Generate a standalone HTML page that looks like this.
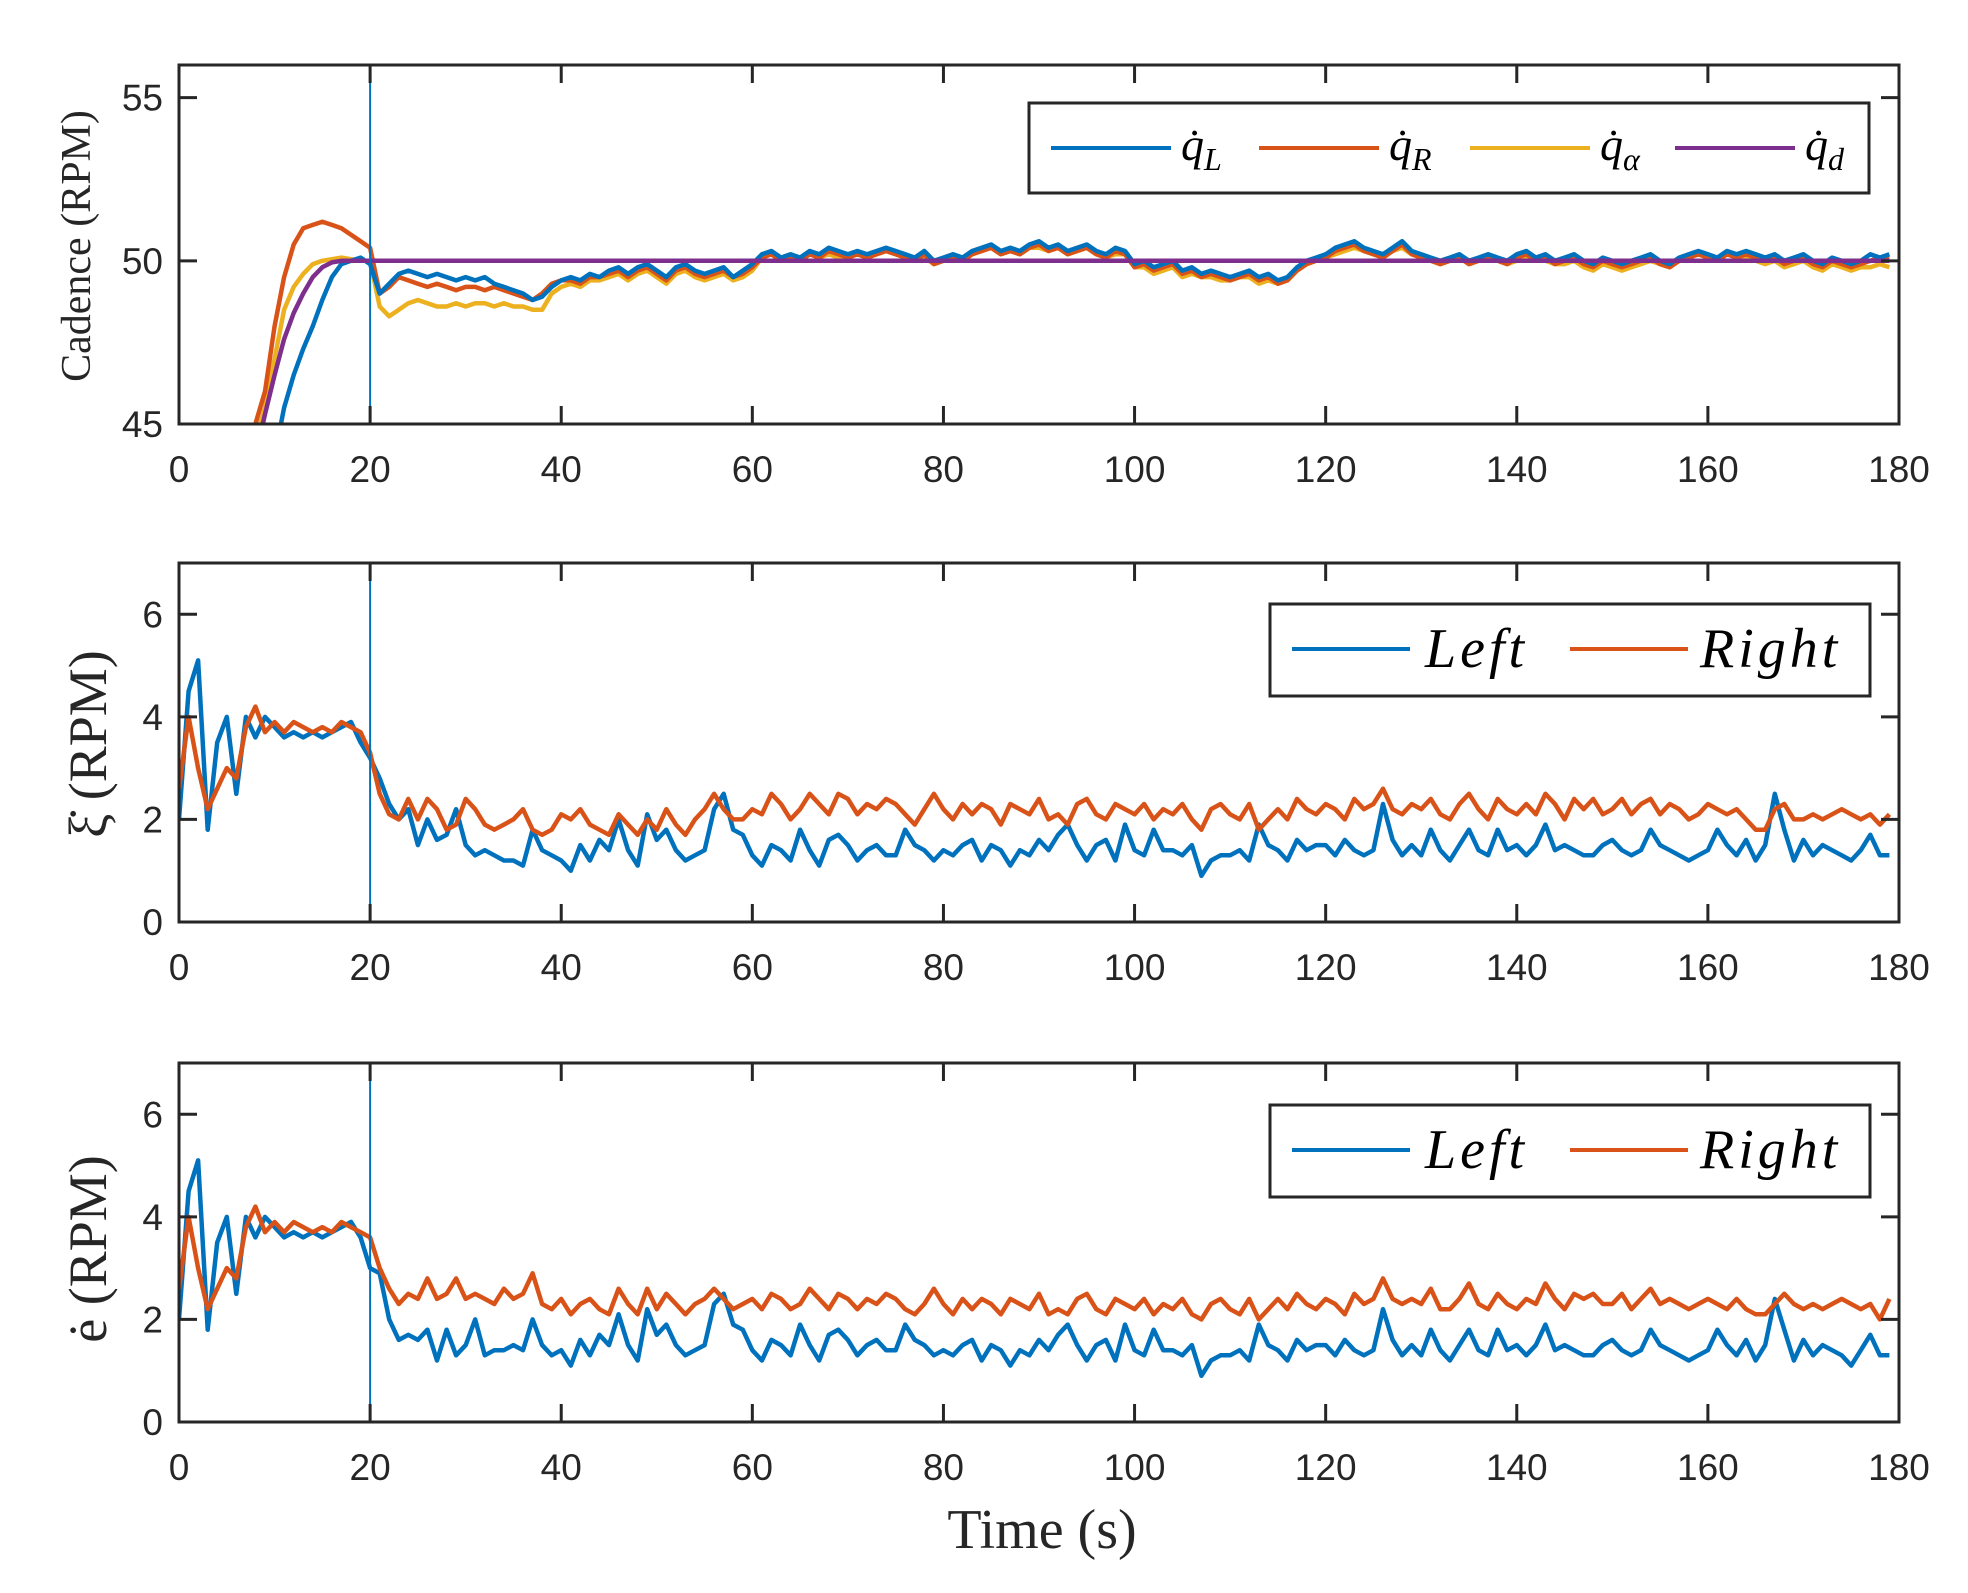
<!DOCTYPE html>
<html><head><meta charset="utf-8"><style>
html,body{margin:0;padding:0;background:#fff;}
svg{display:block;}
</style></head><body>
<svg id="fig" width="1968" height="1593" viewBox="0 0 1968 1593" xmlns="http://www.w3.org/2000/svg"></svg>
<script>
const timeSec = Array.from({length:180},(_, i)=>i);
const xTicks = [0,20,40,60,80,100,120,140,160,180];
const cadenceTicks = [45,50,55];
const rpmTicks = [0,2,4,6];

const qL = [30,31,32,33,34,35,36,38,40,42,44,45.5,46.5,47.3,48,48.8,49.5,49.9,50,50.1,49.9,49,49.3,49.6,49.7,49.6,49.5,49.6,49.5,49.4,49.5,49.4,49.5,49.3,49.2,49.1,49,48.8,48.9,49.2,49.4,49.5,49.4,49.6,49.5,49.7,49.8,49.6,49.8,49.9,49.7,49.5,49.8,49.9,49.7,49.6,49.7,49.8,49.5,49.7,49.9,50.2,50.3,50.1,50.2,50.1,50.3,50.2,50.4,50.3,50.2,50.3,50.2,50.3,50.4,50.3,50.2,50.1,50.3,50.0,50.1,50.2,50.1,50.3,50.4,50.5,50.3,50.4,50.3,50.5,50.6,50.4,50.5,50.3,50.4,50.5,50.3,50.2,50.4,50.3,49.9,50.0,49.8,49.9,50.0,49.7,49.8,49.6,49.7,49.6,49.5,49.6,49.7,49.5,49.6,49.4,49.5,49.8,50.0,50.1,50.2,50.4,50.5,50.6,50.4,50.3,50.2,50.4,50.6,50.3,50.2,50.1,50.0,50.1,50.2,50.0,50.1,50.2,50.1,50.0,50.2,50.3,50.1,50.2,50.0,50.1,50.2,50.0,49.9,50.1,50.0,49.9,50.0,50.1,50.2,50.0,49.9,50.1,50.2,50.3,50.2,50.1,50.3,50.2,50.3,50.2,50.1,50.2,50.0,50.1,50.2,50.0,49.9,50.1,50.0,49.9,50.0,50.2,50.1,50.2];
const qR = [30,31,32,34,36,38,40,42,45,46,48,49.5,50.5,51,51.1,51.2,51.1,51,50.8,50.6,50.4,49,49.2,49.5,49.4,49.3,49.2,49.3,49.2,49.1,49.2,49.2,49.1,49.2,49.1,49,48.9,48.8,49,49.3,49.4,49.4,49.3,49.5,49.5,49.6,49.7,49.5,49.7,49.8,49.6,49.4,49.7,49.8,49.6,49.5,49.6,49.7,49.5,49.6,49.8,50.1,50.2,50.0,50.1,50.0,50.2,50.1,50.3,50.2,50.1,50.2,50.1,50.2,50.3,50.2,50.1,50.0,50.2,49.9,50.0,50.1,50.0,50.2,50.3,50.4,50.2,50.3,50.2,50.4,50.5,50.3,50.4,50.2,50.3,50.4,50.2,50.1,50.3,50.2,49.8,49.9,49.7,49.8,49.9,49.6,49.7,49.5,49.6,49.5,49.4,49.5,49.6,49.4,49.5,49.3,49.4,49.7,49.9,50.0,50.1,50.3,50.4,50.5,50.3,50.2,50.1,50.3,50.5,50.2,50.1,50.0,49.9,50.0,50.1,49.9,50.0,50.1,50.0,49.9,50.1,50.2,50.0,50.1,49.9,50.0,50.1,49.9,49.8,50.0,49.9,49.8,49.9,50.0,50.1,49.9,49.8,50.0,50.1,50.2,50.1,50.0,50.2,50.1,50.2,50.1,50.0,50.1,49.9,50.0,50.1,49.9,49.8,50.0,49.9,49.8,49.9,50.0,50.1,50.1];
const qA = [30,31,32,33,35,37,39,41,44.5,45.5,47,48.5,49.2,49.6,49.9,50,50.05,50.1,50.05,50,50,48.6,48.3,48.5,48.7,48.8,48.7,48.6,48.6,48.7,48.6,48.7,48.7,48.6,48.7,48.6,48.6,48.5,48.5,49,49.2,49.3,49.2,49.4,49.4,49.5,49.6,49.4,49.6,49.7,49.5,49.3,49.6,49.7,49.5,49.4,49.5,49.6,49.4,49.5,49.7,50.1,50.2,50.0,50.1,50.0,50.2,50.1,50.2,50.1,50.1,50.2,50.1,50.2,50.3,50.2,50.1,50.0,50.1,49.9,50.0,50.1,50.0,50.2,50.3,50.4,50.2,50.3,50.2,50.4,50.4,50.3,50.4,50.2,50.3,50.4,50.2,50.1,50.2,50.2,49.8,49.8,49.6,49.7,49.8,49.5,49.6,49.5,49.5,49.4,49.4,49.5,49.5,49.3,49.4,49.3,49.4,49.7,49.9,50.0,50.1,50.2,50.3,50.4,50.3,50.2,50.1,50.3,50.4,50.2,50.1,50.0,49.9,50.0,50.1,49.9,50.0,50.1,50.0,49.9,50.0,50.1,50.0,50.0,49.9,49.9,50.0,49.8,49.7,49.9,49.8,49.7,49.8,49.9,50.0,49.9,49.8,50.0,50.1,50.2,50.1,50.0,50.2,50.1,50.1,50.0,49.9,50.0,49.8,49.9,50.0,49.8,49.7,49.9,49.8,49.7,49.8,49.8,49.9,49.8];
const qD = [30,31,32,33,35,37,39,41.5,44,45.3,46.5,47.6,48.4,49,49.5,49.8,49.95,50,50,50,50,50,50,50,50,50,50,50,50,50,50,50,50,50,50,50,50,50,50,50,50,50,50,50,50,50,50,50,50,50,50,50,50,50,50,50,50,50,50,50,50,50,50,50,50,50,50,50,50,50,50,50,50,50,50,50,50,50,50,50,50,50,50,50,50,50,50,50,50,50,50,50,50,50,50,50,50,50,50,50,50,50,50,50,50,50,50,50,50,50,50,50,50,50,50,50,50,50,50,50,50,50,50,50,50,50,50,50,50,50,50,50,50,50,50,50,50,50,50,50,50,50,50,50,50,50,50,50,50,50,50,50,50,50,50,50,50,50,50,50,50,50,50,50,50,50,50,50,50,50,50,50,50,50,50,50,50,50,50,50];

const xiLeft = [2.0,4.5,5.1,1.8,3.5,4.0,2.5,4.0,3.6,4.0,3.8,3.6,3.7,3.6,3.7,3.6,3.7,3.8,3.9,3.5,3.2,2.8,2.3,2.0,2.2,1.5,2.0,1.6,1.7,2.2,1.5,1.3,1.4,1.3,1.2,1.2,1.1,1.8,1.4,1.3,1.2,1.0,1.5,1.2,1.6,1.4,2.0,1.4,1.1,2.1,1.6,1.8,1.4,1.2,1.3,1.4,2.2,2.5,1.8,1.7,1.3,1.1,1.5,1.4,1.2,1.8,1.4,1.1,1.6,1.7,1.5,1.2,1.4,1.5,1.3,1.3,1.8,1.5,1.4,1.2,1.4,1.3,1.5,1.6,1.2,1.5,1.4,1.1,1.4,1.3,1.6,1.4,1.7,1.9,1.5,1.2,1.5,1.6,1.2,1.9,1.4,1.3,1.8,1.4,1.4,1.3,1.5,0.9,1.2,1.3,1.3,1.4,1.2,1.9,1.5,1.4,1.2,1.6,1.4,1.5,1.5,1.3,1.6,1.4,1.3,1.4,2.3,1.6,1.3,1.5,1.3,1.8,1.4,1.2,1.5,1.8,1.4,1.3,1.8,1.4,1.5,1.3,1.5,1.9,1.4,1.5,1.4,1.3,1.3,1.5,1.6,1.4,1.3,1.4,1.8,1.5,1.4,1.3,1.2,1.3,1.4,1.8,1.5,1.3,1.6,1.2,1.5,2.5,1.8,1.2,1.6,1.3,1.5,1.4,1.3,1.2,1.4,1.7,1.3,1.3];
const xiRight = [2.6,4.0,3.0,2.2,2.6,3.0,2.8,3.8,4.2,3.7,3.9,3.7,3.9,3.8,3.7,3.8,3.7,3.9,3.8,3.7,3.3,2.5,2.1,2.0,2.4,2.0,2.4,2.2,1.8,1.9,2.4,2.2,1.9,1.8,1.9,2.0,2.2,1.8,1.7,1.8,2.1,2.0,2.2,1.9,1.8,1.7,2.1,1.9,1.7,2.0,1.8,2.2,1.9,1.7,2.0,2.2,2.5,2.2,2.0,2.0,2.2,2.1,2.5,2.3,2.0,2.2,2.5,2.3,2.1,2.5,2.4,2.1,2.3,2.2,2.4,2.3,2.1,1.9,2.2,2.5,2.2,2.0,2.3,2.1,2.3,2.2,1.9,2.3,2.2,2.1,2.4,2.0,2.1,1.9,2.3,2.4,2.1,2.0,2.3,2.2,2.1,2.3,2.0,2.2,2.1,2.3,2.0,1.8,2.2,2.3,2.1,2.0,2.3,1.8,2.0,2.2,2.0,2.4,2.2,2.1,2.3,2.2,2.0,2.4,2.2,2.3,2.6,2.2,2.1,2.3,2.2,2.4,2.1,2.0,2.3,2.5,2.2,2.0,2.4,2.2,2.1,2.3,2.1,2.5,2.3,2.0,2.4,2.2,2.4,2.1,2.2,2.4,2.1,2.3,2.4,2.1,2.3,2.2,2.0,2.1,2.3,2.2,2.1,2.2,2.0,1.8,1.8,2.2,2.3,2.0,2.0,2.1,2.0,2.1,2.2,2.1,2.0,2.1,1.9,2.1];
const eLeft = [2.0,4.5,5.1,1.8,3.5,4.0,2.5,4.0,3.6,4.0,3.8,3.6,3.7,3.6,3.7,3.6,3.7,3.8,3.9,3.6,3.0,2.9,2.0,1.6,1.7,1.6,1.8,1.2,1.8,1.3,1.5,2.0,1.3,1.4,1.4,1.5,1.4,2.0,1.5,1.3,1.4,1.1,1.6,1.3,1.7,1.5,2.1,1.5,1.2,2.2,1.7,1.9,1.5,1.3,1.4,1.5,2.3,2.5,1.9,1.8,1.4,1.2,1.6,1.5,1.3,1.9,1.5,1.2,1.7,1.8,1.6,1.3,1.5,1.6,1.4,1.4,1.9,1.6,1.5,1.3,1.4,1.3,1.5,1.6,1.2,1.5,1.4,1.1,1.4,1.3,1.6,1.4,1.7,1.9,1.5,1.2,1.5,1.6,1.2,1.9,1.4,1.3,1.8,1.4,1.4,1.3,1.5,0.9,1.2,1.3,1.3,1.4,1.2,1.9,1.5,1.4,1.2,1.6,1.4,1.5,1.5,1.3,1.6,1.4,1.3,1.4,2.2,1.6,1.3,1.5,1.3,1.8,1.4,1.2,1.5,1.8,1.4,1.3,1.8,1.4,1.5,1.3,1.5,1.9,1.4,1.5,1.4,1.3,1.3,1.5,1.6,1.4,1.3,1.4,1.8,1.5,1.4,1.3,1.2,1.3,1.4,1.8,1.5,1.3,1.6,1.2,1.5,2.4,1.8,1.2,1.6,1.3,1.5,1.4,1.3,1.1,1.4,1.7,1.3,1.3];
const eRight = [2.6,4.0,3.0,2.2,2.6,3.0,2.8,3.8,4.2,3.7,3.9,3.7,3.9,3.8,3.7,3.8,3.7,3.9,3.8,3.7,3.6,3.0,2.6,2.3,2.5,2.4,2.8,2.4,2.5,2.8,2.4,2.5,2.4,2.3,2.6,2.4,2.5,2.9,2.3,2.2,2.4,2.1,2.3,2.4,2.2,2.1,2.6,2.3,2.1,2.6,2.2,2.5,2.3,2.1,2.3,2.4,2.6,2.4,2.2,2.3,2.4,2.2,2.5,2.4,2.2,2.3,2.6,2.4,2.2,2.5,2.4,2.2,2.4,2.3,2.5,2.4,2.2,2.1,2.3,2.6,2.3,2.1,2.4,2.2,2.4,2.3,2.1,2.4,2.3,2.2,2.5,2.1,2.2,2.1,2.4,2.5,2.2,2.1,2.4,2.3,2.2,2.4,2.1,2.3,2.2,2.4,2.1,2.0,2.3,2.4,2.2,2.1,2.4,2.0,2.2,2.4,2.2,2.5,2.3,2.2,2.4,2.3,2.1,2.5,2.3,2.4,2.8,2.4,2.3,2.4,2.3,2.6,2.2,2.2,2.4,2.7,2.3,2.2,2.5,2.3,2.2,2.4,2.3,2.7,2.4,2.2,2.5,2.4,2.5,2.3,2.3,2.5,2.2,2.4,2.6,2.3,2.4,2.3,2.2,2.3,2.4,2.3,2.2,2.4,2.2,2.1,2.1,2.3,2.5,2.3,2.2,2.3,2.2,2.3,2.4,2.3,2.2,2.3,2.0,2.4];

const NS='http://www.w3.org/2000/svg';
const svg=document.getElementById('fig');
const X0=179, X1=1899, PH=359;
const xPx = t => X0 + t/180*(X1-X0);
function mk(tag, attrs, parent){const e=document.createElementNS(NS,tag);for(const k in attrs)e.setAttribute(k,attrs[k]);(parent||svg).appendChild(e);return e;}
const C={blue:'#0072BD',red:'#D95319',yel:'#EDB120',pur:'#7E2F8E',ax:'#262626'};

function panel(idx, top, ymin, ymax, ticks, series, label){
  const yPx = v => top + PH - (v-ymin)/(ymax-ymin)*PH;
  const g=mk('g',{});
  
  
  const cp=mk('clipPath',{id:'clip'+idx},g);
  mk('rect',{x:X0,y:top,width:X1-X0,height:PH},cp);
  const sg=mk('g',{'clip-path':'url(#clip'+idx+')'},g);
  series.forEach(s=>{
    let d='';
    const n=Math.min(s.vals.length,timeSec.length);
    for(let i=0;i<n;i++){d+=(i?'L':'M')+xPx(timeSec[i]).toFixed(1)+' '+yPx(s.vals[i]).toFixed(1);}
    const p=mk('path',{d:d,fill:'none',stroke:s.color,'stroke-width':4.5,'stroke-linejoin':'round'},sg);
    
    
  });
  const vl=mk('line',{x1:xPx(20),x2:xPx(20),y1:top,y2:top+PH,stroke:C.blue,'stroke-width':2},g);
  
  
  const box=mk('rect',{x:X0,y:top,width:X1-X0,height:PH,fill:'none',stroke:C.ax,'stroke-width':3},g);
  
  
  xTicks.forEach(t=>{
    const x=xPx(t);
    mk('line',{x1:x,x2:x,y1:top+PH,y2:top+PH-18,stroke:C.ax,'stroke-width':3},g);
    mk('line',{x1:x,x2:x,y1:top,y2:top+18,stroke:C.ax,'stroke-width':3},g);
    const tx=mk('text',{x:x,y:top+PH+58,'text-anchor':'middle','font-family':'Liberation Sans, sans-serif','font-size':37,fill:C.ax},g);
    tx.textContent=t;
    
    
  });
  ticks.forEach(v=>{
    const y=yPx(v);
    mk('line',{x1:X0,x2:X0+18,y1:y,y2:y,stroke:C.ax,'stroke-width':3},g);
    mk('line',{x1:X1,x2:X1-18,y1:y,y2:y,stroke:C.ax,'stroke-width':3},g);
    const tx=mk('text',{x:X0-16,y:y+13,'text-anchor':'end','font-family':'Liberation Sans, sans-serif','font-size':37,fill:C.ax},g);
    tx.textContent=v;
    
    
  });
  return g;
}

panel(1,65,45,56,cadenceTicks,[
  {name:'q-alpha',vals:qA,color:C.yel},
  {name:'q-right',vals:qR,color:C.red},
  {name:'q-left',vals:qL,color:C.blue},
  {name:'q-desired',vals:qD,color:C.pur}],{name:'cadence'});
panel(2,563,0,7,rpmTicks,[
  {name:'xi-left',vals:xiLeft,color:C.blue},
  {name:'xi-right',vals:xiRight,color:C.red}],{name:'xi'});
panel(3,1063,0,7,rpmTicks,[
  {name:'e-left',vals:eLeft,color:C.blue},
  {name:'e-right',vals:eRight,color:C.red}],{name:'e'});
</script>
<script>
(function(){
const NS='http://www.w3.org/2000/svg';
const svg=document.getElementById('fig');
function mk(tag, attrs){const e=document.createElementNS(NS,tag);for(const k in attrs)e.setAttribute(k,attrs[k]);svg.appendChild(e);return e;}
let r=mk('rect',{x:1029,y:103,width:840,height:90,fill:'#fff',stroke:'#262626','stroke-width':3});


const L1=[[1051,'#0072BD','L'],[1259,'#D95319','R'],[1470,'#EDB120','α'],[1675,'#7E2F8E','d']];
L1.forEach(e=>{
  const l=mk('line',{x1:e[0],x2:e[0]+120,y1:148,y2:148,stroke:e[1],'stroke-width':4});
  
  
  const t=mk('text',{x:e[0]+130,y:160,'font-family':'Liberation Serif, serif','font-style':'italic','font-size':46,fill:'#000'});
  t.innerHTML='q̇<tspan dy="10" font-size="32">'+e[2]+'</tspan>';
  
  
});
[[604,'legend-xi'],[1105,'legend-e']].forEach(p=>{
  const y0=p[0];
  const rr=mk('rect',{x:1270,y:y0,width:600,height:92,fill:'#fff',stroke:'#262626','stroke-width':3});
  
  
  [[1292,'#0072BD','Left',1425],[1570,'#D95319','Right',1700]].forEach(e=>{
    const l=mk('line',{x1:e[0],x2:e[0]+118,y1:y0+45,y2:y0+45,stroke:e[1],'stroke-width':4});
    
    
    const t=mk('text',{x:e[3],y:y0+63,'font-family':'Liberation Serif, serif','font-style':'italic','font-size':56,'letter-spacing':4,fill:'#000'});
    t.textContent=e[2];
    
    
  });
});
function ytitle(txt,x,y,fs,name){
  const t=mk('text',{x:x,y:y,'text-anchor':'middle','font-family':'Liberation Serif, serif','font-size':fs,fill:'#262626',transform:'rotate(-90 '+x+' '+y+')'});
  t.textContent=txt;
  
  
}
ytitle('Cadence (RPM)',90,246,42,'y-axis-title-cadence');
ytitle('ξ̇ (RPM)',106,744,54,'y-axis-title-xi');
ytitle('ė (RPM)',106,1249,54,'y-axis-title-e');
const tt=mk('text',{x:1042,y:1548,'text-anchor':'middle','font-family':'Liberation Serif, serif','font-size':56,fill:'#262626'});
tt.textContent='Time (s)';


})();
</script>
</body></html>
